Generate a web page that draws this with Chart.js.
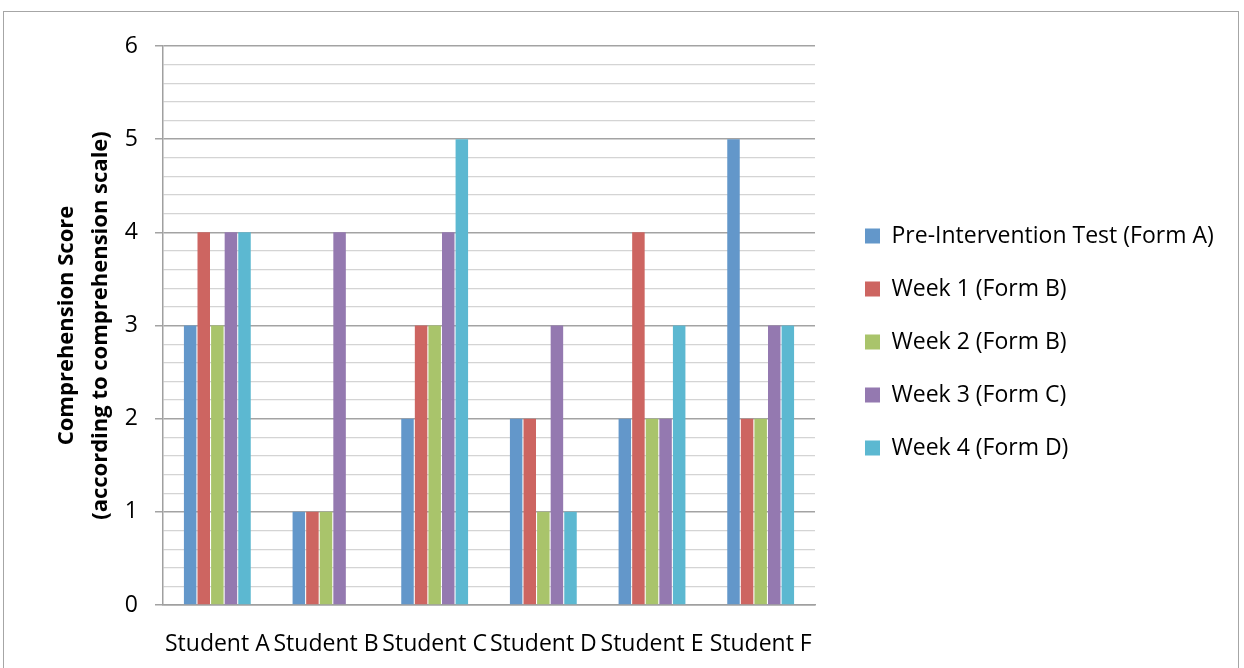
<!DOCTYPE html>
<html>
<head>
<meta charset="utf-8">
<script src="https://cdn.jsdelivr.net/npm/chart.js@4"></script>
<style>
  html, body { margin: 0; padding: 0; background: #fff; }
  #frame { position: absolute; left: 3px; top: 11px; width: 1236px; height: 680px; border: 1px solid #a6a6a6; box-sizing: border-box; }
  #wrap { position: absolute; left: 0; top: 0; width: 1244px; height: 668px; }
</style>
</head>
<body>
<div id="frame"></div>
<div id="wrap"><canvas id="c" width="1244" height="668"></canvas></div>
<script>
const categories = ['Student A', 'Student B', 'Student C', 'Student D', 'Student E', 'Student F'];
const seriesNames = ['Pre-Intervention Test (Form A)', 'Week 1 (Form B)', 'Week 2 (Form B)', 'Week 3 (Form C)', 'Week 4 (Form D)'];
const preIntervention = [3, 1, 2, 2, 2, 5];
const week1 = [4, 1, 3, 2, 4, 2];
const week2 = [3, 1, 3, 1, 2, 2];
const week3 = [4, 4, 4, 3, 2, 3];
const week4 = [4, 0, 5, 1, 3, 3];
const seriesColors = ['#6397CA', '#CD6561', '#A9C46B', '#9479B0', '#5CB8D1'];
const yTitle = ['Comprehension Score', '(according to comprehension scale)'];

const FONT = "'Open Sans', 'DejaVu Sans', sans-serif";
const FS = 23;
const isMajor = v => Math.abs(v - Math.round(v)) < 1e-6;

// measure widest legend text to place the legend
const mctx = document.createElement('canvas').getContext('2d');
mctx.font = FS + "px " + FONT;
const legendTextW = Math.max(...seriesNames.map(s => mctx.measureText(s).width));
const LEG_PAD = 30, BOX = 15;
const legendLeft = 865 - LEG_PAD;
const padRight = Math.max(0, 1244 - (legendLeft + LEG_PAD + BOX + FS / 2 + legendTextW + 10));

const allSeries = [preIntervention, week1, week2, week3, week4];
const datasets = allSeries.map((d, i) => ({
  label: seriesNames[i],
  data: d,
  backgroundColor: seriesColors[i],
  borderWidth: 0,
  barPercentage: 0.92,
  categoryPercentage: 0.625
}));

new Chart(document.getElementById('c'), {
  type: 'bar',
  data: { labels: categories, datasets },
  options: {
    responsive: false,
    animation: false,
    devicePixelRatio: 1,
    layout: { padding: { top: 46, bottom: 0, left: 0, right: padRight } },
    plugins: {
      tooltip: { enabled: false },
      legend: {
        position: 'right',
        fullSize: false,
        maxWidth: 700,
        title: { display: true, text: ' ', font: { size: 12, lineHeight: 1.2 }, padding: { top: 9.3, bottom: 9.3 } },
        labels: {
          color: '#000',
          font: { family: FONT, size: FS },
          boxWidth: BOX,
          boxHeight: BOX,
          padding: LEG_PAD
        }
      }
    },
    scales: {
      x: {
        afterFit: s => { s.height = 63; },
        grid: { display: false },
        border: { display: true, color: '#a0a0a0', width: 1.5 },
        ticks: { color: '#000', font: { family: FONT, size: FS }, padding: 18, maxRotation: 0, autoSkip: false }
      },
      y: {
        min: 0, max: 6,
        afterFit: s => { s.width = 163; },
        border: { display: true, color: '#a0a0a0', width: 1.5 },
        grid: {
          color: c => isMajor(c.tick.value) ? '#a3a3a3' : '#d4d4d4',
          lineWidth: c => isMajor(c.tick.value) ? 1.5 : 1.2,
          tickColor: c => isMajor(c.tick.value) ? '#a3a3a3' : 'rgba(0,0,0,0)',
          tickLength: 8,
          drawTicks: true
        },
        ticks: {
          stepSize: 0.2,
          autoSkip: false,
          color: '#000',
          padding: 17,
          font: { family: FONT, size: FS },
          callback: v => isMajor(v) ? String(Math.round(v)) : ''
        },
        title: {
          display: true,
          text: yTitle,
          color: '#000',
          font: { family: FONT, size: 22, weight: 'bold', lineHeight: 1.55 },
          padding: { top: 50, bottom: 0 }
        }
      },
      spacer: {
        position: 'right',
        display: true,
        afterFit: s => { s.width = 20; },
        grid: { display: false, drawTicks: false },
        border: { display: false },
        ticks: { display: false }
      }
    }
  }
});
</script>
</body>
</html>
